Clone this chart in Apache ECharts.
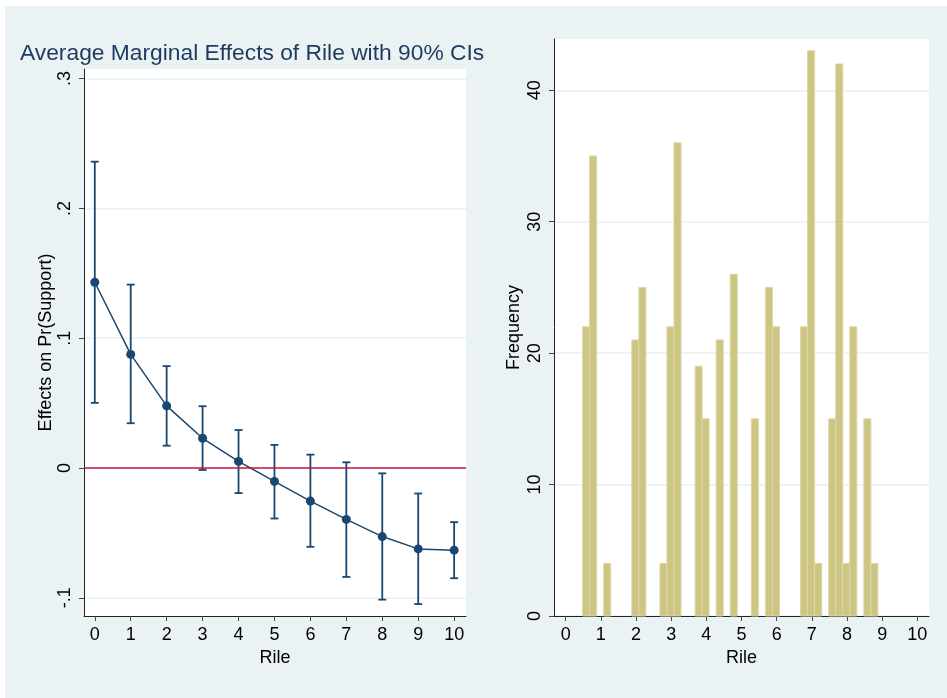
<!DOCTYPE html>
<html>
<head>
<meta charset="utf-8">
<script src="https://cdn.jsdelivr.net/npm/echarts@6/dist/echarts.min.js"></script>
<style>
html,body{margin:0;padding:0;background:#ffffff;}
#chart{width:947px;height:698px;}
</style>
</head>
<body>
<div id="chart"></div>
<script>
// ---- Left panel data: average marginal effects with 90% CIs ----
var rileValues = [0, 1, 2, 3, 4, 5, 6, 7, 8, 9, 10];
var effects    = [0.1431, 0.0875, 0.0479, 0.0229, 0.0051, -0.0103, -0.0255, -0.0396, -0.0528, -0.0623, -0.0633];
var ciLower    = [0.0502, 0.0345, 0.0172, -0.0015, -0.0193, -0.0389, -0.0607, -0.0839, -0.1014, -0.1048, -0.0849];
var ciUpper    = [0.2360, 0.1413, 0.0785, 0.0476, 0.0293, 0.0178, 0.0103, 0.0044, -0.0041, -0.0196, -0.0417];
var leftYTicks      = [-0.1, 0, 0.1, 0.2, 0.3];
var leftYTickLabels = ['-.1', '0', '.1', '.2', '.3'];
var xTicks          = [0, 1, 2, 3, 4, 5, 6, 7, 8, 9, 10];

// ---- Right panel data: histogram of Rile ----
var binLeftEdges = [0.48, 0.68, 1.08, 1.88, 2.08, 2.68, 2.88, 3.08, 3.68, 3.88, 4.28, 4.68,
                    5.28, 5.68, 5.88, 6.68, 6.88, 7.08, 7.48, 7.68, 7.88, 8.08, 8.48, 8.68];
var binFreqs     = [22, 35, 4, 21, 25, 4, 22, 36, 19, 15, 21, 26,
                    15, 25, 22, 22, 43, 4, 15, 42, 4, 22, 15, 4];
var BIN_WIDTH = 0.2;
var rightYTicks = [0, 10, 20, 30, 40];

var FONT = 'Liberation Sans, Arial, Helvetica, sans-serif';
var NAVY = '#1a476f';
var GRID_COLOR = '#e8f0f2';

var chart = echarts.init(document.getElementById('chart'), null, {renderer: 'canvas'});

var pointData = rileValues.map(function (x, i) { return [x, effects[i]]; });
var ciData = rileValues.map(function (x, i) { return [x, ciLower[i], ciUpper[i]]; });
var histData = binLeftEdges.map(function (x, i) { return [x, x + BIN_WIDTH, binFreqs[i]]; });

function yAxisCommon(extra) {
  var base = {
    type: 'value',
    nameLocation: 'middle',
    nameRotate: 90,
    nameTextStyle: {fontFamily: FONT, fontSize: 18, color: '#000'},
    axisLine: {show: true, onZero: false, lineStyle: {color: '#222', width: 1}},
    splitLine: {show: true, lineStyle: {color: GRID_COLOR, width: 1.5}}
  };
  return Object.assign(base, extra);
}

function xAxisCommon(extra) {
  var base = {
    type: 'value',
    name: 'Rile',
    nameLocation: 'middle',
    nameGap: 31,
    nameTextStyle: {fontFamily: FONT, fontSize: 18, color: '#000'},
    axisLine: {show: true, onZero: false, lineStyle: {color: '#222', width: 1}},
    axisTick: {show: true, length: 5, customValues: xTicks, lineStyle: {color: '#444', width: 1}},
    axisLabel: {customValues: xTicks, fontFamily: FONT, fontSize: 18, color: '#000', margin: 10},
    splitLine: {show: false}
  };
  return Object.assign(base, extra);
}

var option = {
  animation: false,
  backgroundColor: '#ffffff',
  graphic: [
    {type: 'rect', left: 5, top: 6, shape: {width: 942, height: 692}, style: {fill: '#eaf2f3'}, z: -10, silent: true},
    {type: 'rect', left: 84, top: 69, shape: {width: 382, height: 547}, style: {fill: '#ffffff'}, z: -9, silent: true},
    {type: 'rect', left: 554, top: 39, shape: {width: 375, height: 577}, style: {fill: '#ffffff'}, z: -9, silent: true}
  ],
  title: {
    text: 'Average Marginal Effects of Rile with 90% CIs',
    left: 15, top: 37,
    textStyle: {fontFamily: FONT, fontSize: 22.8, fontWeight: 'normal', color: '#1e3a5f'}
  },
  grid: [
    {left: 84, right: 481, top: 69, bottom: 82},
    {left: 554, right: 18, top: 39, bottom: 82}
  ],
  xAxis: [
    xAxisCommon({gridIndex: 0, min: -0.3, max: 10.33}),
    xAxisCommon({gridIndex: 1, min: -0.333, max: 10.333})
  ],
  yAxis: [
    yAxisCommon({
      gridIndex: 0, min: -0.114, max: 0.3074,
      name: 'Effects on Pr(Support)', nameGap: 27,
      axisTick: {show: true, length: 5, customValues: leftYTicks, lineStyle: {color: '#444', width: 1}},
      axisLabel: {
        rotate: 90, fontFamily: FONT, fontSize: 18, color: '#000', margin: 10,
        customValues: leftYTicks,
        formatter: function (v) {
          for (var i = 0; i < leftYTicks.length; i++) {
            if (Math.abs(leftYTicks[i] - v) < 1e-9) return leftYTickLabels[i];
          }
          return '';
        }
      }
    }),
    yAxisCommon({
      gridIndex: 1, min: 0, max: 43.9,
      name: 'Frequency', nameGap: 31,
      axisTick: {show: true, length: 5, customValues: rightYTicks, lineStyle: {color: '#444', width: 1}},
      axisLabel: {rotate: 90, fontFamily: FONT, fontSize: 18, color: '#000', margin: 10, customValues: rightYTicks}
    })
  ],
  series: [
    {
      type: 'custom',
      name: 'CI',
      xAxisIndex: 0, yAxisIndex: 0,
      z: 3,
      data: ciData,
      renderItem: function (params, api) {
        var x = api.value(0);
        var lo = api.coord([x, api.value(1)]);
        var hi = api.coord([x, api.value(2)]);
        var cap = 4;
        var st = {stroke: NAVY, lineWidth: 1.8};
        return {
          type: 'group',
          children: [
            {type: 'line', shape: {x1: lo[0], y1: lo[1], x2: hi[0], y2: hi[1]}, style: st},
            {type: 'line', shape: {x1: lo[0] - cap, y1: lo[1], x2: lo[0] + cap, y2: lo[1]}, style: st},
            {type: 'line', shape: {x1: hi[0] - cap, y1: hi[1], x2: hi[0] + cap, y2: hi[1]}, style: st}
          ]
        };
      }
    },
    {
      type: 'line',
      name: 'Effect',
      xAxisIndex: 0, yAxisIndex: 0,
      z: 4,
      data: pointData,
      symbol: 'circle',
      symbolSize: 9,
      showAllSymbol: true,
      lineStyle: {color: NAVY, width: 1.5},
      itemStyle: {color: NAVY},
      markLine: {
        silent: true,
        symbol: 'none',
        label: {show: false},
        lineStyle: {color: '#c8163e', width: 1.5, type: 'solid'},
        data: [{yAxis: 0}]
      }
    },
    {
      type: 'custom',
      name: 'Histogram',
      xAxisIndex: 1, yAxisIndex: 1,
      z: 3,
      data: histData,
      renderItem: function (params, api) {
        var p0 = api.coord([api.value(0), api.value(2)]);
        var p1 = api.coord([api.value(1), 0]);
        return {
          type: 'rect',
          shape: {x: p0[0], y: p0[1], width: p1[0] - p0[0], height: p1[1] - p0[1]},
          style: {fill: '#cdc584', stroke: '#ddd7a4', lineWidth: 1}
        };
      }
    }
  ]
};
chart.setOption(option);
</script>
</body>
</html>
